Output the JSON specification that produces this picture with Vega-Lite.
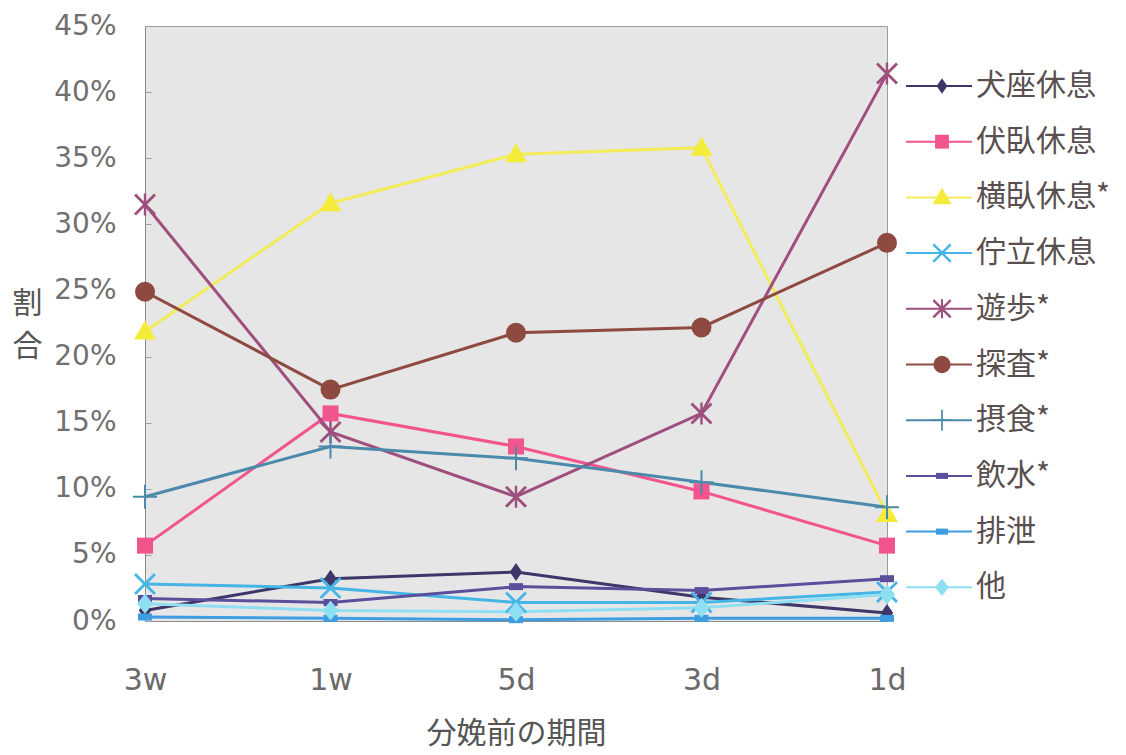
{
  "$schema": "https://vega.github.io/schema/vega-lite/v6.json",
  "width": 742,
  "height": 595,
  "autosize": {"type": "none"},
  "padding": {"left": 145, "top": 26, "right": 239, "bottom": 134},
  "background": "white",
  "config": {
    "view": {"fill": "#e6e6e6", "stroke": "#9a9a9a", "strokeWidth": 1},
    "axis": {"grid": false, "domainColor": "#8a8a8a", "titleFontWeight": "normal"}
  },
  "data": {
    "values": [
      {"期間": "3w", "行動": "犬座休息", "割合": 0.008},
      {"期間": "1w", "行動": "犬座休息", "割合": 0.032},
      {"期間": "5d", "行動": "犬座休息", "割合": 0.037},
      {"期間": "3d", "行動": "犬座休息", "割合": 0.018},
      {"期間": "1d", "行動": "犬座休息", "割合": 0.006},
      {"期間": "3w", "行動": "伏臥休息", "割合": 0.057},
      {"期間": "1w", "行動": "伏臥休息", "割合": 0.157},
      {"期間": "5d", "行動": "伏臥休息", "割合": 0.132},
      {"期間": "3d", "行動": "伏臥休息", "割合": 0.098},
      {"期間": "1d", "行動": "伏臥休息", "割合": 0.057},
      {"期間": "3w", "行動": "横臥休息*", "割合": 0.219},
      {"期間": "1w", "行動": "横臥休息*", "割合": 0.316},
      {"期間": "5d", "行動": "横臥休息*", "割合": 0.353},
      {"期間": "3d", "行動": "横臥休息*", "割合": 0.358},
      {"期間": "1d", "行動": "横臥休息*", "割合": 0.081},
      {"期間": "3w", "行動": "佇立休息", "割合": 0.028},
      {"期間": "1w", "行動": "佇立休息", "割合": 0.025},
      {"期間": "5d", "行動": "佇立休息", "割合": 0.014},
      {"期間": "3d", "行動": "佇立休息", "割合": 0.014},
      {"期間": "1d", "行動": "佇立休息", "割合": 0.022},
      {"期間": "3w", "行動": "遊歩*", "割合": 0.315},
      {"期間": "1w", "行動": "遊歩*", "割合": 0.143},
      {"期間": "5d", "行動": "遊歩*", "割合": 0.094},
      {"期間": "3d", "行動": "遊歩*", "割合": 0.157},
      {"期間": "1d", "行動": "遊歩*", "割合": 0.414},
      {"期間": "3w", "行動": "探査*", "割合": 0.249},
      {"期間": "1w", "行動": "探査*", "割合": 0.175},
      {"期間": "5d", "行動": "探査*", "割合": 0.218},
      {"期間": "3d", "行動": "探査*", "割合": 0.222},
      {"期間": "1d", "行動": "探査*", "割合": 0.286},
      {"期間": "3w", "行動": "摂食*", "割合": 0.094},
      {"期間": "1w", "行動": "摂食*", "割合": 0.132},
      {"期間": "5d", "行動": "摂食*", "割合": 0.123},
      {"期間": "3d", "行動": "摂食*", "割合": 0.105},
      {"期間": "1d", "行動": "摂食*", "割合": 0.086},
      {"期間": "3w", "行動": "飲水*", "割合": 0.017},
      {"期間": "1w", "行動": "飲水*", "割合": 0.014},
      {"期間": "5d", "行動": "飲水*", "割合": 0.026},
      {"期間": "3d", "行動": "飲水*", "割合": 0.023},
      {"期間": "1d", "行動": "飲水*", "割合": 0.032},
      {"期間": "3w", "行動": "排泄", "割合": 0.003},
      {"期間": "1w", "行動": "排泄", "割合": 0.002},
      {"期間": "5d", "行動": "排泄", "割合": 0.001},
      {"期間": "3d", "行動": "排泄", "割合": 0.002},
      {"期間": "1d", "行動": "排泄", "割合": 0.002},
      {"期間": "3w", "行動": "他", "割合": 0.013},
      {"期間": "1w", "行動": "他", "割合": 0.008},
      {"期間": "5d", "行動": "他", "割合": 0.007},
      {"期間": "3d", "行動": "他", "割合": 0.010},
      {"期間": "1d", "行動": "他", "割合": 0.020}
    ]
  },
  "encoding": {
    "x": {
      "field": "期間", "type": "ordinal",
      "sort": ["3w", "1w", "5d", "3d", "1d"],
      "scale": {"type": "point", "padding": 0},
      "axis": {
        "title": "分娩前の期間", "labelAngle": 0, "ticks": false,
        "labelFont": "DejaVu Sans", "labelFontSize": 30, "labelColor": "#6a6a6a",
        "labelBaseline": "middle", "labelPadding": 59,
        "titleFont": "Noto Sans CJK JP", "titleFontSize": 30, "titleColor": "#555555",
        "titleBaseline": "middle", "titleY": 112
      }
    },
    "y": {
      "field": "割合", "type": "quantitative",
      "scale": {"domain": [0, 0.45], "nice": false, "zero": true},
      "axis": {
        "format": "%", "values": [0, 0.05, 0.1, 0.15, 0.2, 0.25, 0.3, 0.35, 0.4, 0.45],
        "tickSize": -6, "tickColor": "#a0a0a0", "labelPadding": 35,
        "labelFont": "DejaVu Sans", "labelFontSize": 28, "labelColor": "#707070",
        "title": ["割", "合"], "titleAngle": 0, "titleX": -118, "titleY": 262,
        "titleAlign": "center", "titleBaseline": "top", "titleLineHeight": 43,
        "titleFont": "Noto Sans CJK JP", "titleFontSize": 30, "titleColor": "#555555"
      }
    }
  },
  "layer": [
    {
      "mark": {"type": "line", "strokeWidth": 3},
      "encoding": {
        "stroke": {
          "field": "行動", "type": "nominal",
          "sort": ["犬座休息", "伏臥休息", "横臥休息*", "佇立休息", "遊歩*", "探査*", "摂食*", "飲水*", "排泄", "他"],
          "scale": {"range": ["#3c3768", "#f2558e", "#f3ec5a", "#45b5e5", "#9e4f7e", "#8e4a40", "#4b8aaa", "#5b4f9c", "#3d9de0", "#8fdff2"]},
          "legend": {
            "orient": "none", "legendX": 751, "legendY": 45, "title": null,
            "symbolType": "M-1,0H12.2", "symbolSize": 100, "symbolStrokeWidth": 2,
            "labelFont": "Noto Sans CJK JP", "labelFontSize": 30, "labelColor": "#5a4f4f",
            "labelOffset": 50, "rowPadding": 25.7
          }
        }
      }
    },
    {
      "mark": {"type": "point", "filled": true, "size": 400, "opacity": 1},
      "encoding": {
        "fill": {
          "field": "行動", "type": "nominal",
          "scale": {
            "domain": ["犬座休息", "伏臥休息", "横臥休息*", "佇立休息", "遊歩*", "探査*", "摂食*", "飲水*", "排泄", "他"],
            "range": ["#3c3768", "#f2558e", "#f3ec3a", "#45b5e5", "#9e4f7e", "#8e4a40", "#4b8aaa", "#5b4f9c", "#3d9de0", "#8fdff2"]
          },
          "legend": {
            "orient": "none", "legendX": 782, "legendY": 45, "title": null,
            "symbolSize": 300, "symbolStrokeWidth": 0, "labelOpacity": 0,
            "labelFont": "Noto Sans CJK JP", "labelFontSize": 30,
            "labelOffset": 9, "rowPadding": 25.7
          }
        },
        "shape": {
          "field": "行動", "type": "nominal",
          "scale": {
            "domain": ["犬座休息", "伏臥休息", "横臥休息*", "佇立休息", "遊歩*", "探査*", "摂食*", "飲水*", "排泄", "他"],
            "range": [
              "M0,-0.9L0.62,0L0,0.9L-0.62,0Z",
              "M-0.8,-0.8H0.8V0.8H-0.8Z",
              "M0,-1.1L1.1,0.8H-1.1Z",
              "M-1.1,-0.9L-0.9,-1.1L0,-0.2L0.9,-1.1L1.1,-0.9L0.2,0L1.1,0.9L0.9,1.1L0,0.2L-0.9,1.1L-1.1,0.9L-0.2,0Z",
              "M-1.1,-0.9L-0.9,-1.1L0,-0.2L0.9,-1.1L1.1,-0.9L0.2,0L1.1,0.9L0.9,1.1L0,0.2L-0.9,1.1L-1.1,0.9L-0.2,0ZM-0.12,-1.1H0.12V1.1H-0.12Z",
              "circle",
              "M-0.1,-1.2H0.1V-0.1H1.2V0.1H0.1V1.2H-0.1V0.1H-1.2V-0.1H-0.1Z",
              "M-0.7,-0.35H0.7V0.35H-0.7Z",
              "M-0.7,-0.35H0.7V0.35H-0.7Z",
              "M0,-1L0.8,0L0,1L-0.8,0Z"
            ]
          },
          "legend": {
            "orient": "none", "legendX": 782, "legendY": 45, "title": null,
            "symbolSize": 300, "symbolStrokeWidth": 0, "labelOpacity": 0,
            "labelFont": "Noto Sans CJK JP", "labelFontSize": 30,
            "labelOffset": 9, "rowPadding": 25.7
          }
        }
      }
    }
  ]
}
